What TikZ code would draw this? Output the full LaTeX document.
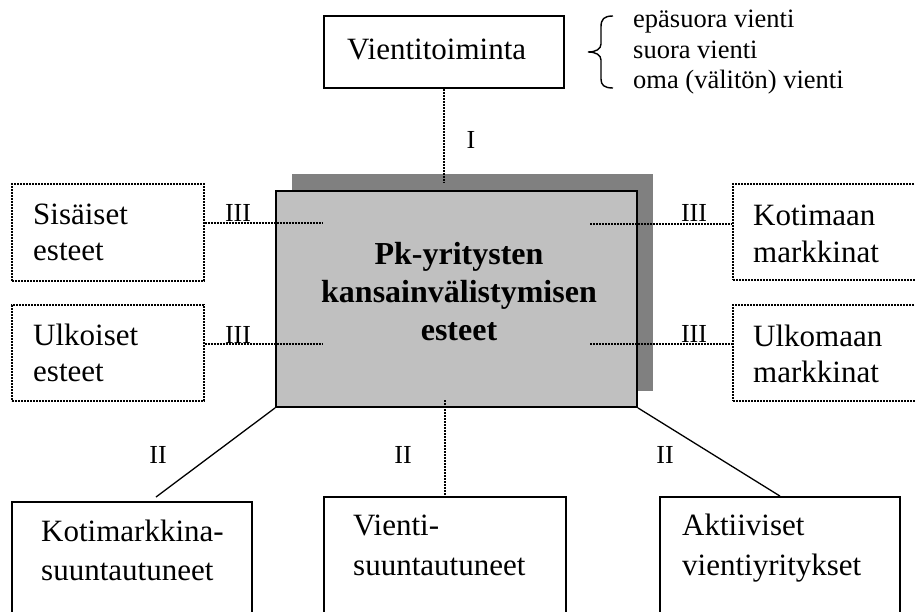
\documentclass[tikz,border=0pt]{standalone}
\usepackage{fontspec}
\setmainfont{Liberation Serif}
\begin{document}
\begin{tikzpicture}[x=1pt,y=-1pt,
  solidbox/.style={draw=black,line width=1.8pt,fill=white,inner sep=0pt},
  dotbox/.style={draw=black,line width=1.4pt,dash pattern=on 2pt off 1pt,fill=white,inner sep=0pt},
  txt/.style={anchor=base west,inner sep=0pt,font=\fontsize{31}{36}\selectfont,align=left},
  small/.style={anchor=base west,inner sep=0pt,font=\fontsize{26.5}{30}\selectfont},
  roman/.style={anchor=base,inner sep=0pt,font=\fontsize{26}{26}\selectfont},
  boldtxt/.style={anchor=base,inner sep=0pt,font=\bfseries\fontsize{32}{38}\selectfont},
  dotline/.style={line width=1.4pt,dash pattern=on 2pt off 1pt},
  thinline/.style={line width=1.3pt}]
\clip (0,0) rectangle (915,612);
\fill[white] (0,0) rectangle (915,612);

% export activity box and its three forms
\node[solidbox,minimum width=240pt,minimum height=72pt] (vt) at (444,52) {};
\node[txt] (vttext) at (347,60) {Vientitoiminta};
\draw[line width=1.4pt] (613,16) .. controls (604,16) and (601,19) .. (601,27) -- (601,44)
  .. controls (601,49) and (596,52) .. (588,52)
  .. controls (596,52) and (601,55) .. (601,60) -- (601,79)
  .. controls (601,85) and (604,88) .. (613,88);
\node[small] (f1) at (633,28) {epäsuora vienti};
\node[small] (f2) at (633,59) {suora vienti};
\node[small] (f3) at (633,89) {oma (välitön) vienti};

% central box with its shadow
\fill[fill={rgb,255:red,128;green,128;blue,128}] (292,174) rectangle (653,391);
\node[draw=black,line width=1.8pt,fill={rgb,255:red,192;green,192;blue,192},
  minimum width=361pt,minimum height=216pt,inner sep=0pt] (main) at (456.5,299) {};
\node[boldtxt] (m1) at (459,265) {Pk-yritysten};
\node[boldtxt] (m2) at (459,302) {kansainvälistymisen};
\node[boldtxt] (m3) at (459,340) {esteet};

% link I
\coordinate (i1) at (444,182);
\draw[dotline] (vt.south) -- (i1);
\node[roman] (lI) at (471,149) {I};

% side boxes (text anchored at the baseline of its last line)
\node[dotbox,minimum width=192pt,minimum height=97pt] (sis) at (108,232.5) {};
\node[txt] (sist) at (33,261) {Sisäiset\\esteet};
\node[dotbox,minimum width=192pt,minimum height=96pt] (ulk) at (108,353) {};
\node[txt] (ulkt) at (33,381) {Ulkoiset\\esteet};
\node[dotbox,minimum width=197pt,minimum height=96pt] (kot) at (831.5,232) {};
\node[txt] (kott) at (753,262) {Kotimaan\\markkinat};
\node[dotbox,minimum width=197pt,minimum height=96pt] (ulm) at (831.5,353) {};
\node[txt] (ulmt) at (753,382) {Ulkomaan\\markkinat};

% links III
\coordinate (a1) at (323,223);
\coordinate (a2) at (323,344);
\coordinate (b1) at (590,224);
\coordinate (b2) at (590,344);
\draw[dotline] (sis.east |- a1) -- (a1);
\draw[dotline] (ulk.east |- a2) -- (a2);
\draw[dotline] (b1) -- (kot.west |- b1);
\draw[dotline] (b2) -- (ulm.west |- b2);
\node[roman] (l3a) at (238,222) {III};
\node[roman] (l3b) at (238,343) {III};
\node[roman] (l3c) at (694,222) {III};
\node[roman] (l3d) at (694,342) {III};

% firm groups
\node[solidbox,minimum width=240pt,minimum height=128pt] (kotim) at (132,566) {};
\node[txt,font=\fontsize{31}{39}\selectfont] (kotimt) at (41,580) {Kotimarkkina-\\suuntautuneet};
\node[solidbox,minimum width=242pt,minimum height=133pt] (vie) at (445,563.5) {};
\node[txt,font=\fontsize{31}{40}\selectfont] (viet) at (353,575) {Vienti-\\suuntautuneet};
\node[solidbox,minimum width=240pt,minimum height=133pt] (akt) at (780,563.5) {};
\node[txt,font=\fontsize{31}{40}\selectfont] (aktt) at (682,575) {Aktiiviset\\vientiyritykset};

% links II
\coordinate (k1) at (156,497);
\coordinate (v1) at (445,400);
\draw[thinline] (main.south west) -- (k1);
\draw[dotline] (v1) -- (vie.north);
\draw[thinline] (main.south east) -- (akt.north);
\node[roman] (l2a) at (158,463) {II};
\node[roman] (l2b) at (403,463) {II};
\node[roman] (l2c) at (665,463) {II};
\end{tikzpicture}
\end{document}
